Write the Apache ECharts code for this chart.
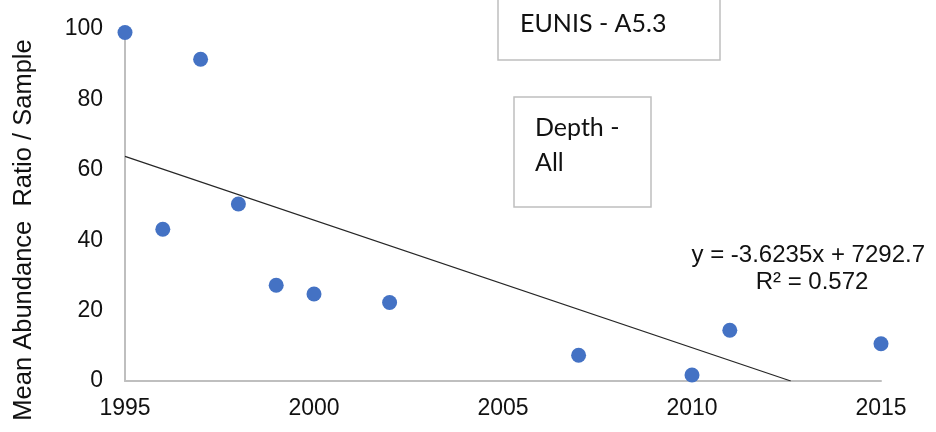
<!DOCTYPE html>
<html>
<head>
<meta charset="utf-8">
<script src="https://cdn.jsdelivr.net/npm/echarts@6/dist/echarts.min.js"></script>
<style>
html,body{margin:0;padding:0;background:#fff;}
#c{width:936px;height:432px;}
</style>
</head>
<body>
<div id="c"></div>
<script>
// Data
var years = [1995, 1996, 1997, 1998, 1999, 2000, 2002, 2007, 2010, 2011, 2015];
var values = [99, 43.1, 91.4, 50.3, 27.2, 24.7, 22.3, 7.3, 1.7, 14.4, 10.6];
var trendSlope = -3.6235;
var trendIntercept = 7292.7;
var equationText = 'y = -3.6235x + 7292.7';
var r2Text = 'R\u00b2 = 0.572';
var yAxisTitle = 'Mean Abundance  Ratio / Sample';
var habitatLabel = 'EUNIS - A5.3';
var depthLabel = 'Depth -\nAll';

var xMin = 1995, xMax = 2015, xInterval = 5;
var yMin = 0, yMax = 100, yInterval = 20;

var points = years.map(function (y, i) { return [y, values[i]]; });
var trendStart = [xMin, trendSlope * xMin + trendIntercept];
var zeroX = -trendIntercept / trendSlope;
var trendEnd = zeroX < xMax ? [zeroX, 0] : [xMax, trendSlope * xMax + trendIntercept];

var chart = echarts.init(document.getElementById('c'));
var axisFont = 'Liberation Sans, Arial, sans-serif';
chart.setOption({
  animation: false,
  backgroundColor: '#ffffff',
  grid: { left: 125, right: 55, top: 29, bottom: 51 },
  xAxis: {
    type: 'value', min: xMin, max: xMax, interval: xInterval,
    axisLine: { show: true, onZero: false, lineStyle: { color: '#bfbfbf', width: 2 } },
    axisTick: { show: false },
    splitLine: { show: false },
    axisLabel: { color: '#111', fontSize: 23, fontFamily: axisFont, margin: 16, formatter: function (v) { return String(v); } }
  },
  yAxis: {
    type: 'value', min: yMin, max: yMax, interval: yInterval,
    axisLine: { show: true, lineStyle: { color: '#bfbfbf', width: 2 } },
    axisTick: { show: false },
    splitLine: { show: false },
    axisLabel: { color: '#111', fontSize: 23, fontFamily: axisFont, margin: 22 }
  },
  series: [
    {
      type: 'line', data: [trendStart, trendEnd], symbol: 'none', silent: true,
      lineStyle: { color: '#262626', width: 1.2 }, z: 2
    },
    {
      type: 'scatter', data: points, symbol: 'circle', symbolSize: 15,
      itemStyle: { color: '#4472C4', opacity: 1 }, z: 3
    }
  ],
  graphic: [
    { type: 'text', x: 24, y: 230, rotation: Math.PI / 2, z: 11,
      style: { text: yAxisTitle, fill: '#111', font: '25.5px "Liberation Sans", Arial, sans-serif', textAlign: 'center', textVerticalAlign: 'middle' } },
    { type: 'rect', shape: { x: 498, y: -2, width: 222, height: 62 },
      style: { fill: '#fff', stroke: '#bfbfbf', lineWidth: 1.5 }, z: 10 },
    { type: 'text', x: 520, y: 24, z: 11,
      style: { text: habitatLabel, fill: '#111', font: '25px Lato, "Open Sans", sans-serif', textVerticalAlign: 'middle' } },
    { type: 'rect', shape: { x: 514, y: 97, width: 137, height: 110 },
      style: { fill: '#fff', stroke: '#bfbfbf', lineWidth: 1.5 }, z: 10 },
    { type: 'text', x: 535, y: 110, z: 11,
      style: { text: depthLabel, fill: '#111', font: '25px Lato, "Open Sans", sans-serif', lineHeight: 35 } },
    { type: 'text', x: 925, y: 255, z: 11,
      style: { text: equationText, fill: '#111', font: '24px "Liberation Sans", Arial, sans-serif', textAlign: 'right', textVerticalAlign: 'middle' } },
    { type: 'text', x: 812, y: 282, z: 11,
      style: { text: r2Text, fill: '#111', font: '24px "Liberation Sans", Arial, sans-serif', textAlign: 'center', textVerticalAlign: 'middle' } }
  ]
});
</script>
</body>
</html>
